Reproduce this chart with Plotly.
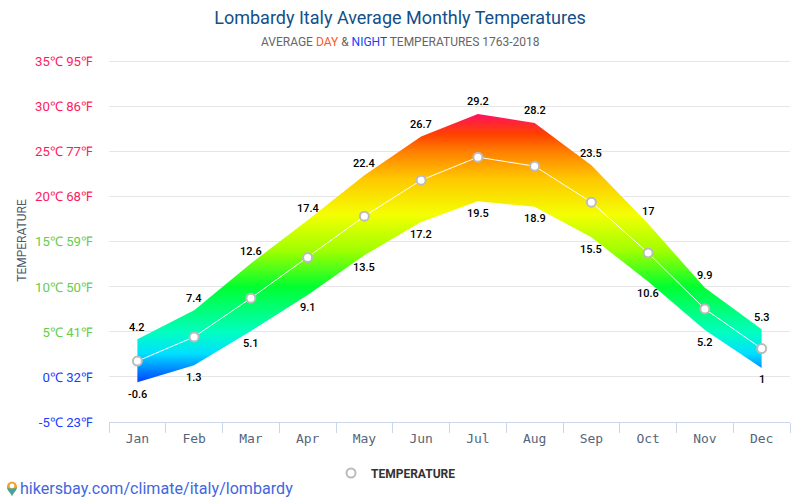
import plotly.graph_objects as go

months = ["Jan","Feb","Mar","Apr","May","Jun","Jul","Aug","Sep","Oct","Nov","Dec"]
day = [4.2,7.4,12.6,17.4,22.4,26.7,29.2,28.2,23.5,17,9.9,5.3]
night = [-0.6,1.3,5.1,9.1,13.5,17.2,19.5,18.9,15.5,10.6,5.2,1]
avg = [1.76,4.45,8.75,13.25,17.85,21.85,24.4,23.4,19.4,13.77,7.55,3.15]

y_ticks = [-5,0,5,10,15,20,25,30,35]
y_labels = ["-5℃ 23℉","0℃ 32℉","5℃ 41℉","10℃ 50℉","15℃ 59℉","20℃ 68℉","25℃ 77℉","30℃ 86℉","35℃ 95℉"]
y_colors = ["#1a40ff","#1a40ff","#66cc4d","#66cc4d","#66cc4d","#ff1a5e","#ff1a5e","#ff1a5e","#ff1a5e"]

grad_temps = [-0.6,2.6,5,10,14,18,22,25,27,29.2]
grad_cols = ["#0040ff","#00e0ff","#00ffc0","#00ff30","#a0ff00","#f4ff00","#ffc800","#ff8000","#ff4000","#ff1060"]

lo, hi = min(grad_temps), max(grad_temps)
colorscale = [[(t-lo)/(hi-lo), c] for t, c in zip(grad_temps, grad_cols)]

pl, pr, pt, pb = 109, 790, 59.2, 422.5
def fx(px): return (px-pl)/(pr-pl)
def fy(py): return (pb-py)/(pb-pt)

fig = go.Figure()
fig.add_trace(go.Scatter(x=months, y=night, mode="lines", line=dict(width=0),
    showlegend=False, hoverinfo="skip"))
fig.add_trace(go.Scatter(x=months, y=day, mode="lines", line=dict(width=0),
    fill="tonexty",
    fillgradient=dict(type="vertical", colorscale=colorscale, start=lo, stop=hi),
    showlegend=False, hoverinfo="skip"))
fig.add_trace(go.Scatter(x=months, y=avg, mode="lines+markers", name="TEMPERATURE",
    line=dict(color="#ffffff", width=1),
    marker=dict(size=9, color="#ffffff", line=dict(color="#bbbbbb", width=2))))

annots = [
    dict(text='AVERAGE <span style="color:#ff5a1a">DAY</span> &amp; <span style="color:#1a40ff">NIGHT</span> TEMPERATURES 1763-2018',
         x=fx(400), y=fy(42), xref="paper", yref="paper", showarrow=False,
         font=dict(family="Roboto", size=12, color="#666666"), xanchor="center", yanchor="middle"),
    dict(text="hikersbay.com/climate/italy/lombardy", x=fx(17.5), y=fy(489.5), xref="paper", yref="paper",
         showarrow=False, font=dict(family="Roboto", size=16.1, color="#4466dd"), xanchor="left", yanchor="middle"),
]
lab_font = dict(family="Roboto", size=11, color="#000000", weight=500)
for m, v in zip(months, day):
    annots.append(dict(text=f"{v:g}", x=m, y=v, xref="x", yref="y", showarrow=False, yshift=12, font=lab_font))
for m, v in zip(months, night):
    annots.append(dict(text=f"{v:g}", x=m, y=v, xref="x", yref="y", showarrow=False, yshift=-12, font=lab_font))

pin = dict(type="path", xref="paper", yref="paper", xsizemode="pixel", ysizemode="pixel",
           xanchor=fx(12), yanchor=fy(487.5))
fig.update_layout(
    width=800, height=500,
    margin=dict(l=pl, r=800-pr, t=pt, b=500-pb, pad=0),
    paper_bgcolor="#fff", plot_bgcolor="#fff",
    title=dict(text="Lombardy Italy Average Monthly Temperatures", x=0.5, xref="container", xanchor="center",
               y=1-18/500, yref="container", yanchor="middle",
               font=dict(family="Roboto", size=18, color="#134f8a")),
    legend=dict(orientation="h", x=0.495, xref="container", xanchor="center", y=1-473/500, yref="container", yanchor="middle",
                font=dict(family="Roboto", size=12, color="#333333", weight=700)),
    annotations=annots,
    shapes=[
        dict(pin, path="M 0 -9 C -2 -5 -5 -3 -5 0 C -5 7 5 7 5 0 C 5 -3 2 -5 0 -9 Z",
             line=dict(width=0), fillcolor="#f4a02e"),
        dict(pin, path="M 0 -9 C -2 -5 -5 -3 -5 0 C -4 -2 4 -2 5 0 C 5 -3 2 -5 0 -9 Z",
             line=dict(width=0), fillcolor="#3fa7a0"),
        dict(type="circle", xref="paper", yref="paper", xsizemode="pixel", ysizemode="pixel",
             xanchor=fx(12), yanchor=fy(487.5), x0=-2.4, x1=2.4, y0=-1.4, y1=3.4,
             line=dict(width=0), fillcolor="#ffffff"),
    ],
)

fig.update_xaxes(type="category", categoryorder="array", categoryarray=months, range=[-0.5, 11.5],
    tickson="boundaries", ticks="outside", ticklen=10, tickcolor="#ccd6eb", tickwidth=1,
    showline=True, linecolor="#ccd6eb", linewidth=1, showgrid=False,
    ticklabelstandoff=4,
    tickfont=dict(family="DejaVu Sans Mono", size=13, color="#56657a"))
fig.update_yaxes(range=[-5, 35.3], tickmode="array", tickvals=y_ticks,
    ticktext=[f'<span style="color:{c}">{t}</span>' for t, c in zip(y_labels, y_colors)],
    ticks="", showline=False, gridcolor="#e6e6e6", gridwidth=1, zeroline=False,
    ticklabelstandoff=15,
    tickfont=dict(family="Roboto", size=13.2),
    title=dict(text="TEMPERATURE", standoff=5, font=dict(family="Roboto", size=12, color="#4f5b6e")))

fig.write_html("out.html", config=dict(displayModeBar=False), post_script="document.body.style.margin='0';")
